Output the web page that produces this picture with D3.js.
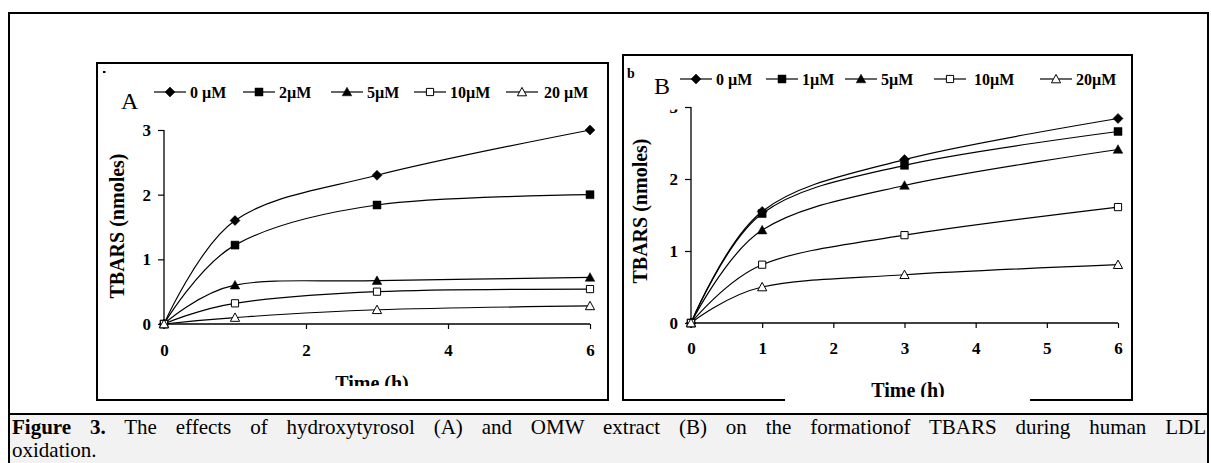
<!DOCTYPE html>
<html><head><meta charset="utf-8">
<script src="https://cdn.jsdelivr.net/npm/d3@7"></script>
<style>body{margin:0;background:#fff}svg{display:block}</style></head>
<body><svg id="c" width="1211" height="463"></svg>
<script>
// ---------- data ----------
const timesA = [0, 1, 3, 6];
const labelsA = ["0 µM", "2µM", "5µM", "10µM", "20 µM"];
const a0 = [0, 1.60, 2.30, 3.00];
const a2 = [0, 1.22, 1.84, 2.00];
const a5 = [0, 0.60, 0.67, 0.72];
const a10 = [0, 0.32, 0.50, 0.54];
const a20 = [0, 0.10, 0.22, 0.28];
const xTicksA = [0, 2, 4, 6];
const yTicksA = [0, 1, 2, 3];

const timesB = [0, 1, 3, 6];
const labelsB = ["0 µM", "1µM", "5µM", "10µM", "20µM"];
const b0 = [0, 1.55, 2.27, 2.84];
const b1 = [0, 1.52, 2.19, 2.66];
const b5 = [0, 1.29, 1.91, 2.41];
const b10 = [0, 0.81, 1.22, 1.61];
const b20 = [0, 0.50, 0.67, 0.81];
const xTicksB = [0, 1, 2, 3, 4, 5, 6];
const yTicksB = [0, 1, 2, 3];

const markerKinds = ["diamond", "square", "triangle", "osquare", "otriangle"];
const caption1Bold = "Figure 3.";
const caption1 = " The effects of hydroxytyrosol (A) and OMW extract (B) on the formationof TBARS during human LDL";
const caption2 = "oxidation.";

// ---------- drawing ----------
const svg = d3.select("#c");
const serif = "'Liberation Serif','Times New Roman',serif";
svg.append("rect").attr("width", 1211).attr("height", 463).attr("fill", "#fff");
const defs = svg.append("defs");

function markerPath(kind) {
  switch (kind) {
    case "diamond": return "M0,-5L5,0L0,5L-5,0Z";
    case "square": return "M-4,-4H4V4H-4Z";
    case "triangle": return "M0,-4.8L4.8,3.8H-4.8Z";
    case "osquare": return "M-3.6,-3.6H3.6V3.6H-3.6Z";
    case "otriangle": return "M0,-4.6L4.6,3.8H-4.6Z";
  }
}
function drawMarker(g, kind, x, y) {
  const open = kind.startsWith("o");
  g.append("path").attr("d", markerPath(kind))
    .attr("transform", `translate(${x},${y})`)
    .attr("fill", open ? "#fff" : "#000")
    .attr("stroke", "#000").attr("stroke-width", open ? 1 : 0.5);
}

function panel(cfg) {
  const g = svg.append("g");
  const [x0, y0, x1, y1] = cfg.box;
  const frame = cfg.gap
    ? `M${cfg.gap[0]},${y1}H${x0}V${y0}H${x1}V${y1}H${cfg.gap[1]}`
    : `M${x0},${y0}H${x1}V${y1}H${x0}Z`;
  g.append("path").attr("d", frame).attr("fill", "none")
    .attr("stroke", "#000").attr("stroke-width", 2);

  const x = d3.scaleLinear().domain([0, 6]).range(cfg.xr);
  const y = d3.scaleLinear().domain([0, 3]).range(cfg.yr);

  const xa = g.append("g").attr("transform", `translate(0,${cfg.yr[0]})`)
    .call(d3.axisBottom(x).tickValues(cfg.xTicks).tickSize(5).tickPadding(cfg.xPad).tickFormat(d3.format("d")));
  const ya = g.append("g").attr("transform", `translate(${cfg.xr[0]},0)`)
    .call(d3.axisLeft(y).tickValues(cfg.yTicks).tickSize(6).tickPadding(7).tickFormat(d3.format("d")));
  [xa, ya].forEach(a => {
    a.select(".domain").attr("stroke-width", 1.3);
    a.selectAll(".tick line").attr("stroke-width", 1.2);
    a.selectAll("text").attr("font-family", serif).attr("font-weight", "bold")
      .attr("font-size", 17).attr("fill", "#000");
  });
  xa.select(".domain").attr("d", `M${cfg.xr[0]},0H${cfg.xr[1]}`);
  ya.select(".domain").attr("d", `M0,${cfg.yr[1]}V${cfg.yr[0]}`);
  if (cfg.clipTopLabel) {
    const id = "clipT" + cfg.id;
    defs.append("clipPath").attr("id", id).append("rect")
      .attr("x", -40).attr("y", cfg.clipTopLabel).attr("width", 40).attr("height", 20);
    ya.selectAll(".tick").filter(d => d === 3).select("text").attr("clip-path", `url(#${id})`);
  }

  const line = d3.line().x(d => x(d[0])).y(d => y(d[1])).curve(d3.curveCatmullRom.alpha(0));
  cfg.series.forEach(s => {
    const pts = cfg.times.map((t, j) => [t, s[j]]);
    g.append("path").attr("d", line(pts)).attr("fill", "none")
      .attr("stroke", "#000").attr("stroke-width", 1.2);
  });
  cfg.series.forEach((s, i) => {
    cfg.times.forEach((t, j) => drawMarker(g, markerKinds[i], x(t), y(s[j])));
  });

  cfg.labels.forEach((lab, i) => {
    const mx = cfg.legX[i], ly = cfg.legY;
    g.append("line").attr("x1", mx - 16).attr("x2", mx + 16).attr("y1", ly).attr("y2", ly)
      .attr("stroke", "#000").attr("stroke-width", 1.2);
    drawMarker(g, markerKinds[i], mx, ly);
    g.append("text").attr("x", mx + cfg.legOff[i]).attr("y", ly + 5.5).text(lab)
      .attr("font-family", serif).attr("font-weight", "bold").attr("font-size", 16);
  });

  g.append("text").attr("x", cfg.letter[0]).attr("y", cfg.letter[1]).text(cfg.letter[2])
    .attr("font-family", serif).attr("font-size", 24);

  g.append("text").attr("transform", `translate(${cfg.yt[0]},${cfg.yt[1]}) rotate(-90)`)
    .attr("text-anchor", "middle").attr("dy", "0.35em").text("TBARS (nmoles)")
    .attr("font-family", serif).attr("font-weight", "bold").attr("font-size", 20);
  const cid = "clipX" + cfg.id;
  defs.append("clipPath").attr("id", cid).append("rect")
    .attr("x", x0).attr("y", y0).attr("width", x1 - x0).attr("height", cfg.xtClip - y0);
  g.append("text").attr("x", cfg.xt[0]).attr("y", cfg.xt[1]).attr("text-anchor", "middle")
    .text("Time (h)").attr("clip-path", `url(#${cid})`)
    .attr("font-family", serif).attr("font-weight", "bold").attr("font-size", 20);
  return g;
}

const gA = panel({
  id: "A", box: [97, 63, 608, 400], xr: [164, 590], yr: [324, 130],
  xTicks: xTicksA, yTicks: yTicksA, xPad: 15,
  times: timesA, series: [a0, a2, a5, a10, a20], labels: labelsA,
  legX: [170, 259, 347, 430, 522], legOff: [20, 20, 20, 20, 22], legY: 92,
  letter: [121, 109, "A"], yt: [117, 226], xt: [372, 390], xtClip: 386
});
gA.append("rect").attr("x", 103).attr("y", 71).attr("width", 2.5).attr("height", 2).attr("fill", "#000");

const gB = panel({
  id: "B", box: [623, 55, 1132, 400], gap: [785, 1030], xr: [691, 1118], yr: [323, 107],
  xTicks: xTicksB, yTicks: yTicksB, xPad: 14, clipTopLabel: 2,
  times: timesB, series: [b0, b1, b5, b10, b20], labels: labelsB,
  legX: [696, 782, 861, 950, 1056], legOff: [20, 20, 20, 24, 20], legY: 79,
  letter: [654, 94, "B"], yt: [640, 211], xt: [908, 397], xtClip: 397
});
gB.append("text").attr("x", 627).attr("y", 78).text("b")
  .attr("font-family", serif).attr("font-weight", "bold").attr("font-size", 14);

// outer frame & caption
svg.append("rect").attr("x", 9).attr("y", 415).attr("width", 1199).attr("height", 50).attr("fill", "#f2f2f2");
svg.append("line").attr("x1", 9).attr("x2", 1208).attr("y1", 414).attr("y2", 414)
  .attr("stroke", "#000").attr("stroke-width", 2);
svg.append("rect").attr("x", 9).attr("y", 13).attr("width", 1199).attr("height", 470)
  .attr("fill", "none").attr("stroke", "#000").attr("stroke-width", 2);

const cap = svg.append("text").attr("x", 12).attr("y", 434)
  .attr("font-family", serif).attr("font-size", 21);
cap.append("tspan").attr("font-weight", "bold").text(caption1Bold);
cap.append("tspan").text(caption1);
const natural = cap.node().getComputedTextLength();
const nSpaces = (caption1Bold + caption1).split(" ").length - 1;
cap.attr("word-spacing", (1194 - natural) / nSpaces);
svg.append("text").attr("x", 12).attr("y", 457).text(caption2)
  .attr("font-family", serif).attr("font-size", 21);
</script></body></html>
